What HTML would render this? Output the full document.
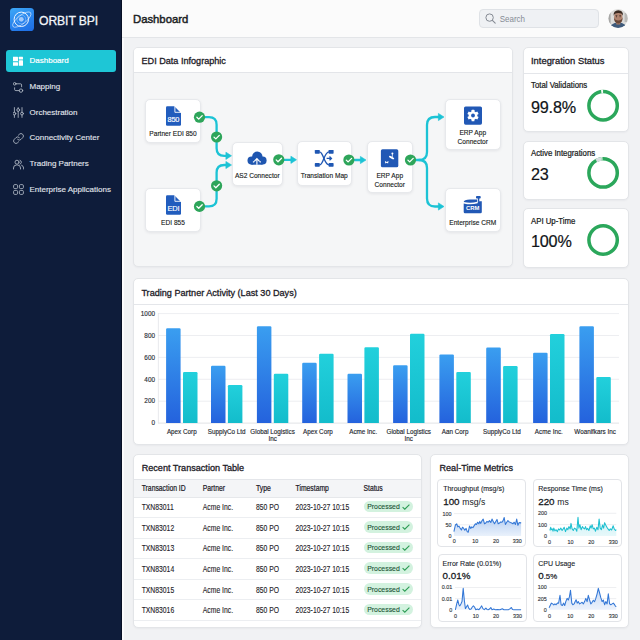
<!DOCTYPE html>
<html><head><meta charset="utf-8">
<style>
*{box-sizing:border-box;margin:0;padding:0}
html,body{width:640px;height:640px;overflow:hidden}
body{font-family:"Liberation Sans",sans-serif;background:#f1f2f4;position:relative;color:#1a1d23}
.a{position:absolute}
#sb{left:0;top:0;width:122px;height:640px;background:#0e1c3a;border-right:1px solid #070f24}
#strip{left:122px;top:0;width:2px;height:640px;background:#fbfbfc}
#logo{left:10.2px;top:7.8px;width:23.6px;height:23.4px;border-radius:3.6px;background:linear-gradient(155deg,#3eaaf8,#2a86ee 50%,#1d6ce4)}
#brand{left:39px;top:13.5px;font-size:12.2px;color:#f1f4f8;letter-spacing:-0.1px;white-space:nowrap}
.nav{left:6px;width:110px;height:22px;border-radius:3px}
.nav.on{background:#1ec6d6}
.nt{position:absolute;left:23.5px;font-size:8px;color:#e2e6ed;white-space:nowrap;top:6px;-webkit-text-stroke:0.12px #e2e6ed}
.nav.on .nt{color:#fff;-webkit-text-stroke:0.2px #fff}
.ni{position:absolute;left:7px;top:5.5px;width:11px;height:11px}
#top{left:122px;top:0;width:518px;height:37.5px;background:#fbfbfb;border-bottom:1px solid #e3e5e8}
#title{left:133px;top:12.7px;font-size:11.3px;color:#1b1e24;-webkit-text-stroke:0.45px #1b1e24}
#search{left:479px;top:9px;width:120px;height:19px;border:1px solid #dfe2e6;background:#eff1f4;border-radius:4px}
#stext{left:499.7px;top:14px;font-size:8px;color:#868c95;transform:scaleY(1.12);transform-origin:0 0}
.card{background:#fff;border:1px solid #e3e5e8;border-radius:5px;box-shadow:0 1px 2px rgba(20,30,50,0.04)}
.ch{font-size:9.1px;color:#1d2027;white-space:nowrap;-webkit-text-stroke:0.3px #1d2027}

.node{position:absolute;background:#fff;border:1px solid #e7e9ec;border-radius:5px;box-shadow:0 1px 3px rgba(20,30,50,0.08)}
.nl{position:absolute;font-size:6.6px;color:#181b20;white-space:nowrap;text-align:center;line-height:8px;transform:scaleY(1.15);-webkit-text-stroke:0.12px #181b20}

.sl{left:531px;font-size:7.8px;color:#1a1d22;white-space:nowrap;-webkit-text-stroke:0.22px #1a1d22;transform:scaleY(1.08);transform-origin:0 0}
.sv{left:531px;font-size:16.2px;color:#111418;white-space:nowrap;letter-spacing:-0.2px;-webkit-text-stroke:0.2px #111418}

.tt{position:absolute;font-size:6.8px;color:#1e2228;white-space:nowrap;transform:scaleY(1.2);transform-origin:0 0;-webkit-text-stroke:0.1px #1e2228}
.th{position:absolute;font-size:6.8px;color:#1d2027;white-space:nowrap;-webkit-text-stroke:0.18px #1d2027;transform:scaleY(1.2);transform-origin:0 0}
.pill{position:absolute;left:363.5px;width:49.5px;height:11.6px;border-radius:6px;background:#d3f2df}
.pill span{position:absolute;left:3.7px;top:1.6px;font-size:6.9px;color:#1a5234;white-space:nowrap;transform:scaleY(1.15);transform-origin:0 0;-webkit-text-stroke:0.1px #1a5234}
.pill svg{position:absolute;left:38.5px;top:3px}

.sub{width:89px;height:68px;border:1px solid #e2e4e8;border-radius:4px;background:#fff}
.ml{font-size:7px;color:#22262d;white-space:nowrap;-webkit-text-stroke:0.12px #22262d}
.mv{font-size:9.8px;color:#16191e;white-space:nowrap}
.mv b{font-weight:normal;-webkit-text-stroke:0.28px #16191e}
.mv span{font-size:8.6px;font-weight:normal}
.tx text{stroke:#2a2e35;stroke-width:0.14}
</style></head>
<body>
<div id="sb" class="a"></div><div id="strip" class="a"></div>
<div id="logo" class="a"><svg width="24" height="23" viewBox="0 0 24 23" style="position:absolute;left:0;top:0"><circle cx="11.3" cy="11.3" r="7.2" fill="none" stroke="#eef5ff" stroke-width="1"/><circle cx="11.3" cy="11.3" r="4.4" fill="none" stroke="#bcd9ff" stroke-width="0.7" opacity="0.55"/><circle cx="11.3" cy="11.3" r="2.4" fill="#b9d6fb" opacity="0.85"/><ellipse cx="11.8" cy="11.6" rx="11.2" ry="4.2" transform="rotate(-38 11.8 11.6)" fill="none" stroke="#e8f2ff" stroke-width="0.8" opacity="0.75"/></svg></div>
<div id="brand" class="a" style="-webkit-text-stroke:0.3px #f1f4f8">ORBIT BPI</div>

<div class="a nav on" style="top:50px"><svg class="ni" viewBox="0 0 11 11"><rect x="-0.2" y="0.8" width="5.2" height="4.5" rx="0.5" fill="#fff"/><rect x="-0.2" y="6.3" width="5.2" height="3.5" rx="0.5" fill="#fff"/><rect x="5.8" y="0.8" width="4.2" height="2.8" rx="0.5" fill="#fff"/><rect x="5.8" y="4.2" width="4.2" height="5.6" rx="0.5" fill="#fff"/></svg><div class="nt">Dashboard</div></div>
<div class="a nav" style="top:76px"><svg class="ni" viewBox="0 0 11 11" fill="none" stroke="#b4bcc8" stroke-width="0.85" stroke-linecap="round"><circle cx="1.7" cy="1.8" r="1.3"/><path d="M3 1.8H7.4Q8.6 1.8 8.6 3V4.8"/><path d="M1.6 5.8V7.4Q1.6 8.6 2.8 8.6H6.2"/><circle cx="8" cy="8.6" r="1.7"/></svg><div class="nt">Mapping</div></div>
<div class="a nav" style="top:101.5px"><svg class="ni" viewBox="0 0 11 11" fill="none" stroke="#b4bcc8" stroke-width="0.85" stroke-linecap="round"><path d="M1.4 0.6V5.2M1.4 8V10.4M5.2 0.6V1.6M5.2 4.4V10.4M9 0.6V5.2M9 8V10.4"/><circle cx="1.4" cy="6.6" r="1.4"/><circle cx="5.2" cy="3" r="1.4"/><circle cx="9" cy="6.6" r="1.4"/></svg><div class="nt">Orchestration</div></div>
<div class="a nav" style="top:127.3px"><svg class="ni" viewBox="0 0 11 11" fill="none" stroke="#b4bcc8" stroke-width="0.85" stroke-linecap="round"><path d="M4.6 6.4a2.4 2.4 0 0 0 3.4 0l1.7-1.7a2.4 2.4 0 0 0-3.4-3.4l-0.9 0.9"/><path d="M6.4 4.6a2.4 2.4 0 0 0-3.4 0l-1.7 1.7a2.4 2.4 0 0 0 3.4 3.4l0.9-0.9"/></svg><div class="nt">Connectivity Center</div></div>
<div class="a nav" style="top:153px"><svg class="ni" viewBox="0 0 11 11" fill="none" stroke="#b4bcc8" stroke-width="0.85" stroke-linecap="round"><circle cx="4" cy="3.2" r="2"/><path d="M0.5 10V9a3 3 0 0 1 3-3h1a3 3 0 0 1 3 3v1"/><path d="M7 1.3a2 2 0 0 1 0 3.8"/><path d="M8.6 6.2a3 3 0 0 1 2 2.8v1"/></svg><div class="nt">Trading Partners</div></div>
<div class="a nav" style="top:178.6px"><svg class="ni" viewBox="0 0 11 11" fill="none" stroke="#b4bcc8" stroke-width="0.85"><rect x="0.6" y="0.6" width="4" height="4" rx="1.2"/><rect x="6.4" y="0.6" width="4" height="4" rx="1.2"/><rect x="0.6" y="6.4" width="4" height="4" rx="1.2"/><rect x="6.4" y="6.4" width="4" height="4" rx="1.2"/></svg><div class="nt">Enterprise Applications</div></div>

<div id="top" class="a"></div>
<div id="title" class="a">Dashboard</div>
<div id="search" class="a"></div>
<div id="stext" class="a">Search</div>
<svg class="a" style="left:0;top:0" width="640" height="40" viewBox="0 0 640 40">
<defs><clipPath id="avc"><circle cx="618.1" cy="18.5" r="9.6"/></clipPath></defs>
<g clip-path="url(#avc)">
<rect x="608" y="8" width="21" height="21" fill="#dcdcda"/>
<rect x="608" y="12" width="2.6" height="12" fill="#9a9a98" opacity="0.8"/>
<rect x="624.6" y="13" width="3.4" height="9" fill="#b0b0ae" opacity="0.8"/>
<ellipse cx="618.3" cy="30.5" rx="9.5" ry="8" fill="#3e5a7b"/>
<rect x="616.3" y="21" width="4" height="3.5" fill="#a57a64"/>
<ellipse cx="618.3" cy="17.2" rx="4.2" ry="5.6" fill="#b08470"/><path d="M615.6 15.6H617.3M619.3 15.6H621" stroke="#3a2a21" stroke-width="0.7"/><circle cx="616.5" cy="16.7" r="0.5" fill="#2a1d18"/><circle cx="620.1" cy="16.7" r="0.5" fill="#2a1d18"/>
<path d="M613.9 17.5Q614 23.3 618.3 23.6Q622.6 23.3 622.7 17.5Q621.5 20.5 618.3 20.6Q615 20.5 613.9 17.5Z" fill="#6a4838"/>
<path d="M613.6 15.8Q613.2 10.6 618.3 10.3Q623.4 10.6 623 15.8Q622.2 12.8 618.3 12.9Q614.4 12.8 613.6 15.8Z" fill="#3a2a21"/>
</g>
</svg>
<svg class="a" style="left:484.8px;top:13.3px" width="11" height="11" viewBox="0 0 11 11"><circle cx="4.6" cy="4.6" r="3.7" fill="none" stroke="#858b94" stroke-width="1"/><path d="M7.4 7.4L10.2 10.2" stroke="#858b94" stroke-width="1.1" stroke-linecap="round"/></svg>

<!-- EDI card -->
<div class="a card" style="left:132.6px;top:47px;width:380.6px;height:220px;background:#f5f6f7;overflow:hidden">
  <div style="height:25px;background:#fff;border-bottom:1px solid #e3e5e9"></div>
</div>
<div class="a ch" style="left:141.5px;top:56.3px">EDI Data Infographic</div>


<!-- EDI nodes -->
<div class="node" style="left:145px;top:99px;width:56px;height:44px"></div>
<div class="node" style="left:145px;top:188px;width:56px;height:44px"></div>
<div class="node" style="left:232px;top:141.5px;width:50.5px;height:44px"></div>
<div class="node" style="left:297px;top:141px;width:54.5px;height:45px"></div>
<div class="node" style="left:367px;top:141px;width:45.5px;height:51.5px"></div>
<div class="node" style="left:444.5px;top:99px;width:56.5px;height:51px"></div>
<div class="node" style="left:444.5px;top:188px;width:56.5px;height:44px"></div>
<div class="nl" style="left:145px;width:56px;top:129.5px">Partner EDI 850</div>
<div class="nl" style="left:145px;width:56px;top:219px">EDI 855</div>
<div class="nl" style="left:232px;width:50.5px;top:172px">AS2 Connector</div>
<div class="nl" style="left:297px;width:54.5px;top:172px">Translation Map</div>
<div class="nl" style="left:367px;width:45.5px;top:172px">ERP App<br>Connector</div>
<div class="nl" style="left:444.5px;width:56.5px;top:129px">ERP App<br>Connector</div>
<div class="nl" style="left:444.5px;width:56.5px;top:219px">Enterprise CRM</div>
<svg class="a" style="left:0;top:0" width="640" height="640" viewBox="0 0 640 640">
<defs>
<g id="ck"><circle r="5.6" fill="#2ea55a"/><path d="M-2.6 0.1L-0.8 1.9L2.7 -1.6" fill="none" stroke="#fff" stroke-width="1.3" stroke-linecap="round" stroke-linejoin="round"/></g>
<path id="ah" d="M-5.6 -3.6L0 0L-5.6 3.6Z" fill="#1cc3d5" stroke="#1cc3d5" stroke-width="0.6" stroke-linejoin="round"/>
</defs>
<g fill="none" stroke="#1cc3d5" stroke-width="2.3" stroke-linecap="round">
<path d="M204 117.2H209Q216.6 117.2 216.6 124.8V148.2Q216.6 155.8 224.2 155.8H227"/>
<path d="M204 206.4H209Q216.6 206.4 216.6 198.8V172.6Q216.6 165 224.2 165H227"/>
<path d="M284 159.8H291"/>
<path d="M291 160H292"/>
<path d="M355 160H361"/>
<path d="M416 160H419Q427 160 427 152V125Q427 117 435 117H439"/>
<path d="M419 160Q427 160 427 168V198.5Q427 206.5 435 206.5H439"/>
</g>
<use href="#ah" x="231.5" y="155.8"/>
<use href="#ah" x="231.5" y="165"/>
<use href="#ah" x="296.5" y="159.8"/>
<use href="#ah" x="366" y="160"/>
<use href="#ah" x="444" y="117"/>
<use href="#ah" x="444" y="206.5"/>
<use href="#ck" x="199.5" y="117.2"/>
<use href="#ck" x="216.6" y="137"/>
<use href="#ck" x="216.6" y="185.8"/>
<use href="#ck" x="199.5" y="206.4"/>
<use href="#ck" x="278.8" y="159.8"/>
<use href="#ck" x="348.9" y="160"/>
<use href="#ck" x="410.5" y="160"/>
<!-- doc icons -->
<path d="M167.2 106.2H174.3L181 112.9V124.5Q181 125.7 179.8 125.7H167.2Q166 125.7 166 124.5V107.4Q166 106.2 167.2 106.2Z" fill="#215cbd"/><path d="M174.9 106.2V112.3H181.2" fill="none" stroke="#fff" stroke-width="0.9"/><text x="173.4" y="122" font-size="7.4" letter-spacing="-0.2" fill="#fff" text-anchor="middle" font-family="Liberation Sans" stroke="#fff" stroke-width="0.15">850</text>
<path d="M167.2 195.2H174.3L181 201.9V213.5Q181 214.7 179.8 214.7H167.2Q166 214.7 166 213.5V196.4Q166 195.2 167.2 195.2Z" fill="#215cbd"/><path d="M174.9 195.2V201.3H181.2" fill="none" stroke="#fff" stroke-width="0.9"/><text x="173.4" y="211" font-size="7.4" letter-spacing="-0.2" fill="#fff" text-anchor="middle" font-family="Liberation Sans" stroke="#fff" stroke-width="0.15">EDI</text>
<!-- cloud -->
<g fill="#1f56b0"><circle cx="251.6" cy="160.6" r="4.1"/><circle cx="257.3" cy="156.7" r="5.2"/><circle cx="262.6" cy="160.5" r="4"/><rect x="251.6" y="158" width="11" height="6.7"/></g>
<path d="M256.9 164.8V159.4M254.3 161.3L256.9 158.5L259.5 161.3M252.9 161.9H254.2M259.6 161.9H260.9" fill="none" stroke="#fff" stroke-width="1.15"/>
<!-- shuffle -->
<g fill="#1f57b3"><rect x="314.8" y="149.9" width="5" height="3.8" rx="0.7"/><rect x="314.8" y="163" width="5" height="3.8" rx="0.7"/><rect x="328.6" y="149.9" width="5" height="3.8" rx="0.7"/><rect x="328.6" y="163" width="5" height="3.8" rx="0.7"/></g>
<g fill="none" stroke="#1f57b3" stroke-width="1.35"><path d="M319.5 151.8C323.5 151.8 324 164.9 329 164.9"/><path d="M319.5 164.9C323.5 164.9 324 151.8 329 151.8"/><path d="M326.6 158.4H331.2M329.5 156.6L331.4 158.4L329.5 160.2"/></g>
<!-- erp mid -->
<rect x="380.9" y="149.3" width="17.4" height="18" rx="1.6" fill="#2158b5"/>
<circle cx="392.4" cy="153.4" r="1" fill="#fff"/><path d="M392.4 154V157" stroke="#fff" stroke-width="0.7"/><ellipse cx="391.6" cy="157.6" rx="3" ry="1" transform="rotate(28 391.6 157.6)" fill="#fff"/><path d="M384.9 161.1L386.7 162.1L388.5 161.1L388.1 163.5L386.7 162.7L385.3 163.5Z" fill="#fff"/>
<!-- gear -->
<rect x="464" y="106.4" width="18" height="18.3" rx="1.6" fill="#2158b5"/>
<g transform="translate(473 115.5)" fill="#fff"><circle r="4.3"/><rect id="tth" x="-1.45" y="-5.7" width="2.9" height="2.6" rx="0.5"/><use href="#tth" transform="rotate(60)"/><use href="#tth" transform="rotate(120)"/><use href="#tth" transform="rotate(180)"/><use href="#tth" transform="rotate(240)"/><use href="#tth" transform="rotate(300)"/><circle r="1.9" fill="#2158b5"/></g>
<!-- crm -->
<path d="M463.7 203.5Q471 205.3 477.6 203.3L478 201.3H481.8V211.9Q481.8 213.2 480.5 213.2H465Q463.7 213.2 463.7 211.9Z" fill="#2158b5"/>
<path d="M463.7 202.1Q463.9 199.7 470 199.6H477.2V201.8Q471 203.5 463.7 202.1Z" fill="#2158b5"/>
<rect x="476" y="196" width="4.7" height="2.5" rx="0.8" fill="#2158b5"/>
<rect x="477.9" y="198" width="1.4" height="3.6" fill="#2158b5"/>
<text x="472.8" y="210.4" font-size="5.9" fill="#fff" text-anchor="middle" font-family="Liberation Sans" font-weight="bold">CRM</text>
</svg>

<!-- Integration status -->
<div class="a card" style="left:522.5px;top:47px;width:106.3px;height:85.3px;overflow:hidden"><div style="height:25.5px;border-bottom:1px solid #e4e6ea"></div></div>
<div class="a card" style="left:522.5px;top:140.5px;width:106.3px;height:59.6px"></div>
<div class="a card" style="left:522.5px;top:207.5px;width:106.3px;height:60.3px"></div>
<div class="a ch" style="left:531px;top:55px;font-size:9.4px">Integration Status</div>
<div class="a sl" style="top:80px">Total Validations</div>
<div class="a sv" style="top:97.5px">99.8%</div>
<div class="a sl" style="top:148.2px">Active Integrations</div>
<div class="a sv" style="top:165.2px">23</div>
<div class="a sl" style="top:215.5px">API Up-Time</div>
<div class="a sv" style="top:232.3px">100%</div>
<svg class="a" style="left:0;top:0" width="640" height="640" viewBox="0 0 640 640" fill="none">
<circle cx="603.1" cy="105.8" r="14.2" stroke="#2ba75b" stroke-width="3.5"/>
<circle cx="603.1" cy="105.8" r="14.2" stroke="#f6fbf8" stroke-width="3.8" stroke-dasharray="1.9 100" transform="rotate(-97.5 603.1 105.8)"/>
<circle cx="603.1" cy="172.9" r="14.2" stroke="#2ba75b" stroke-width="3.5"/>
<circle cx="603.1" cy="172.9" r="14.2" stroke="#d6dddf" stroke-width="3.8" stroke-dasharray="5.5 100" transform="rotate(-119 603.1 172.9)"/>
<circle cx="603.1" cy="172.9" r="14.2" stroke="#f6fbf8" stroke-width="3.8" stroke-dasharray="1 100" transform="rotate(-96.5 603.1 172.9)"/>
<circle cx="603.1" cy="240" r="14.2" stroke="#2ba75b" stroke-width="3.5"/>
</svg>


<!-- chart card -->
<div class="a card" style="left:132.6px;top:278.4px;width:496.4px;height:166.6px;overflow:hidden"><div style="height:25.6px;border-bottom:1px solid #e4e6ea"></div></div>
<div class="a ch" style="left:141.4px;top:287.5px">Trading Partner Activity (Last 30 Days)</div>
<svg class="a tx" style="left:0;top:0" width="640" height="640" viewBox="0 0 640 640">
<defs><linearGradient id="gb" x1="0" y1="0" x2="0" y2="1"><stop offset="0" stop-color="#3a9ef0"/><stop offset="1" stop-color="#2462dd"/></linearGradient><linearGradient id="gc" x1="0" y1="0" x2="0" y2="1"><stop offset="0" stop-color="#22d0dc"/><stop offset="1" stop-color="#13bccb"/></linearGradient></defs>
<line x1="158" y1="423.1" x2="619" y2="423.1" stroke="#d9dce1" stroke-width="0.8"/>
<text x="155" y="425.3" font-size="6.4" text-anchor="end" fill="#2a2e35" font-family="Liberation Sans">0</text>
<line x1="158" y1="401.2" x2="619" y2="401.2" stroke="#e8eaed" stroke-width="0.8"/>
<text x="155" y="403.4" font-size="6.4" text-anchor="end" fill="#2a2e35" font-family="Liberation Sans">200</text>
<line x1="158" y1="379.3" x2="619" y2="379.3" stroke="#e8eaed" stroke-width="0.8"/>
<text x="155" y="381.5" font-size="6.4" text-anchor="end" fill="#2a2e35" font-family="Liberation Sans">400</text>
<line x1="158" y1="357.4" x2="619" y2="357.4" stroke="#e8eaed" stroke-width="0.8"/>
<text x="155" y="359.6" font-size="6.4" text-anchor="end" fill="#2a2e35" font-family="Liberation Sans">600</text>
<line x1="158" y1="335.5" x2="619" y2="335.5" stroke="#e8eaed" stroke-width="0.8"/>
<text x="155" y="337.7" font-size="6.4" text-anchor="end" fill="#2a2e35" font-family="Liberation Sans">800</text>
<line x1="158" y1="313.6" x2="619" y2="313.6" stroke="#e8eaed" stroke-width="0.8"/>
<text x="155" y="315.8" font-size="6.4" text-anchor="end" fill="#2a2e35" font-family="Liberation Sans">1000</text>
<line x1="158.4" y1="313" x2="158.4" y2="423.1" stroke="#e3e5e8" stroke-width="0.8"/>
<path d="M166.1 423.1V329.5Q166.1 328.3 167.3 328.3H179.4Q180.6 328.3 180.6 329.5V423.1Z" fill="url(#gb)"/>
<path d="M183.0 423.1V373.3Q183.0 372.1 184.2 372.1H196.3Q197.5 372.1 197.5 373.3V423.1Z" fill="url(#gc)"/>
<text x="181.8" y="433.6" font-size="6.3" text-anchor="middle" fill="#22262d" font-family="Liberation Sans">Apex Corp</text>
<path d="M211.0 423.1V367.0Q211.0 365.8 212.2 365.8H224.3Q225.5 365.8 225.5 367.0V423.1Z" fill="url(#gb)"/>
<path d="M227.9 423.1V386.2Q227.9 385.0 229.1 385.0H241.2Q242.4 385.0 242.4 386.2V423.1Z" fill="url(#gc)"/>
<text x="226.7" y="433.6" font-size="6.3" text-anchor="middle" fill="#22262d" font-family="Liberation Sans">SupplyCo Ltd</text>
<path d="M256.9 423.1V327.4Q256.9 326.2 258.1 326.2H270.2Q271.4 326.2 271.4 327.4V423.1Z" fill="url(#gb)"/>
<path d="M273.8 423.1V374.9Q273.8 373.7 275.0 373.7H287.1Q288.3 373.7 288.3 374.9V423.1Z" fill="url(#gc)"/>
<text x="272.6" y="433.6" font-size="6.3" text-anchor="middle" fill="#22262d" font-family="Liberation Sans">Global Logistics</text>
<text x="272.6" y="441.1" font-size="6.3" text-anchor="middle" fill="#22262d" font-family="Liberation Sans">Inc</text>
<path d="M302.2 423.1V364.0Q302.2 362.8 303.4 362.8H315.5Q316.7 362.8 316.7 364.0V423.1Z" fill="url(#gb)"/>
<path d="M319.1 423.1V354.9Q319.1 353.7 320.3 353.7H332.4Q333.6 353.7 333.6 354.9V423.1Z" fill="url(#gc)"/>
<text x="317.9" y="433.6" font-size="6.3" text-anchor="middle" fill="#22262d" font-family="Liberation Sans">Apex Corp</text>
<path d="M347.5 423.1V374.9Q347.5 373.7 348.7 373.7H360.8Q362.0 373.7 362.0 374.9V423.1Z" fill="url(#gb)"/>
<path d="M364.4 423.1V348.4Q364.4 347.2 365.6 347.2H377.7Q378.9 347.2 378.9 348.4V423.1Z" fill="url(#gc)"/>
<text x="363.2" y="433.6" font-size="6.3" text-anchor="middle" fill="#22262d" font-family="Liberation Sans">Acme Inc.</text>
<path d="M393.1 423.1V366.5Q393.1 365.3 394.3 365.3H406.4Q407.6 365.3 407.6 366.5V423.1Z" fill="url(#gb)"/>
<path d="M410.0 423.1V334.9Q410.0 333.7 411.2 333.7H423.3Q424.5 333.7 424.5 334.9V423.1Z" fill="url(#gc)"/>
<text x="408.8" y="433.6" font-size="6.3" text-anchor="middle" fill="#22262d" font-family="Liberation Sans">Global Logistics</text>
<text x="408.8" y="441.1" font-size="6.3" text-anchor="middle" fill="#22262d" font-family="Liberation Sans">Inc</text>
<path d="M439.4 423.1V355.6Q439.4 354.4 440.6 354.4H452.7Q453.9 354.4 453.9 355.6V423.1Z" fill="url(#gb)"/>
<path d="M456.3 423.1V373.1Q456.3 371.9 457.5 371.9H469.6Q470.8 371.9 470.8 373.1V423.1Z" fill="url(#gc)"/>
<text x="455.1" y="433.6" font-size="6.3" text-anchor="middle" fill="#22262d" font-family="Liberation Sans">Aan Corp</text>
<path d="M486.2 423.1V348.7Q486.2 347.5 487.4 347.5H499.6Q500.8 347.5 500.8 348.7V423.1Z" fill="url(#gb)"/>
<path d="M503.1 423.1V367.2Q503.1 366.0 504.3 366.0H516.4Q517.6 366.0 517.6 367.2V423.1Z" fill="url(#gc)"/>
<text x="501.9" y="433.6" font-size="6.3" text-anchor="middle" fill="#22262d" font-family="Liberation Sans">SupplyCo Ltd</text>
<path d="M533.1 423.1V354.0Q533.1 352.8 534.3 352.8H546.4Q547.6 352.8 547.6 354.0V423.1Z" fill="url(#gb)"/>
<path d="M550.0 423.1V335.2Q550.0 334.0 551.2 334.0H563.3Q564.5 334.0 564.5 335.2V423.1Z" fill="url(#gc)"/>
<text x="548.8" y="433.6" font-size="6.3" text-anchor="middle" fill="#22262d" font-family="Liberation Sans">Acme Inc.</text>
<path d="M579.4 423.1V327.4Q579.4 326.2 580.6 326.2H592.7Q593.9 326.2 593.9 327.4V423.1Z" fill="url(#gb)"/>
<path d="M596.3 423.1V378.1Q596.3 376.9 597.5 376.9H609.6Q610.8 376.9 610.8 378.1V423.1Z" fill="url(#gc)"/>
<text x="595.1" y="433.6" font-size="6.3" text-anchor="middle" fill="#22262d" font-family="Liberation Sans">Woanifkars Inc</text>
</svg>

<!-- table card -->
<div class="a card" style="left:132.8px;top:454px;width:289.2px;height:174.3px;overflow:hidden"><div style="height:25px;border-bottom:1px solid #e4e6ea"></div><div style="height:17.5px;background:#f4f5f7;border-bottom:1px solid #e6e8eb"></div>
<div style="height:20.6px;border-bottom:1px solid #eceef1"></div>
<div style="height:20.6px;border-bottom:1px solid #eceef1"></div>
<div style="height:20.6px;border-bottom:1px solid #eceef1"></div>
<div style="height:20.6px;border-bottom:1px solid #eceef1"></div>
<div style="height:20.6px;border-bottom:1px solid #eceef1"></div>
<div style="height:20.6px;border-bottom:1px solid #eceef1"></div>
</div>
<div class="a ch" style="left:141.7px;top:462.6px">Recent Transaction Table</div>
<div class="th" style="left:141.7px;top:484.4px">Transaction ID</div>
<div class="th" style="left:202.8px;top:484.4px">Partner</div>
<div class="th" style="left:256px;top:484.4px">Type</div>
<div class="th" style="left:295.5px;top:484.4px">Timestamp</div>
<div class="th" style="left:363.5px;top:484.4px">Status</div>
<div class="tt" style="left:141.7px;top:503.2px">TXN83011</div>
<div class="tt" style="left:202.8px;top:503.2px">Acme Inc.</div>
<div class="tt" style="left:256px;top:503.2px">850 PO</div>
<div class="tt" style="left:295.5px;top:503.2px">2023-10-27 10:15</div>
<div class="pill" style="top:500.6px"><span>Processed</span><svg width="8" height="6" viewBox="0 0 8 6"><path d="M0.6 3.1L2.8 5.2L7.4 0.7" fill="none" stroke="#2e9c55" stroke-width="1.1"/></svg></div>
<div class="tt" style="left:141.7px;top:523.8px">TXN83012</div>
<div class="tt" style="left:202.8px;top:523.8px">Acme Inc.</div>
<div class="tt" style="left:256px;top:523.8px">850 PO</div>
<div class="tt" style="left:295.5px;top:523.8px">2023-10-27 10:15</div>
<div class="pill" style="top:521.2px"><span>Processed</span><svg width="8" height="6" viewBox="0 0 8 6"><path d="M0.6 3.1L2.8 5.2L7.4 0.7" fill="none" stroke="#2e9c55" stroke-width="1.1"/></svg></div>
<div class="tt" style="left:141.7px;top:544.4px">TXN83013</div>
<div class="tt" style="left:202.8px;top:544.4px">Acme Inc.</div>
<div class="tt" style="left:256px;top:544.4px">850 PO</div>
<div class="tt" style="left:295.5px;top:544.4px">2023-10-27 10:15</div>
<div class="pill" style="top:541.8px"><span>Processed</span><svg width="8" height="6" viewBox="0 0 8 6"><path d="M0.6 3.1L2.8 5.2L7.4 0.7" fill="none" stroke="#2e9c55" stroke-width="1.1"/></svg></div>
<div class="tt" style="left:141.7px;top:565.0px">TXN83014</div>
<div class="tt" style="left:202.8px;top:565.0px">Acme Inc.</div>
<div class="tt" style="left:256px;top:565.0px">850 PO</div>
<div class="tt" style="left:295.5px;top:565.0px">2023-10-27 10:15</div>
<div class="pill" style="top:562.4px"><span>Processed</span><svg width="8" height="6" viewBox="0 0 8 6"><path d="M0.6 3.1L2.8 5.2L7.4 0.7" fill="none" stroke="#2e9c55" stroke-width="1.1"/></svg></div>
<div class="tt" style="left:141.7px;top:585.6px">TXN83015</div>
<div class="tt" style="left:202.8px;top:585.6px">Acme Inc.</div>
<div class="tt" style="left:256px;top:585.6px">850 PO</div>
<div class="tt" style="left:295.5px;top:585.6px">2023-10-27 10:15</div>
<div class="pill" style="top:583.0px"><span>Processed</span><svg width="8" height="6" viewBox="0 0 8 6"><path d="M0.6 3.1L2.8 5.2L7.4 0.7" fill="none" stroke="#2e9c55" stroke-width="1.1"/></svg></div>
<div class="tt" style="left:141.7px;top:606.2px">TXN83016</div>
<div class="tt" style="left:202.8px;top:606.2px">Acme Inc.</div>
<div class="tt" style="left:256px;top:606.2px">850 PO</div>
<div class="tt" style="left:295.5px;top:606.2px">2023-10-27 10:15</div>
<div class="pill" style="top:603.6px"><span>Processed</span><svg width="8" height="6" viewBox="0 0 8 6"><path d="M0.6 3.1L2.8 5.2L7.4 0.7" fill="none" stroke="#2e9c55" stroke-width="1.1"/></svg></div>

<!-- metrics card -->
<div class="a card" style="left:430.3px;top:453.8px;width:198.3px;height:174.7px"></div>
<div class="a ch" style="left:439.5px;top:463.4px">Real-Time Metrics</div>
<div class="a sub" style="left:437.2px;top:479.2px"></div>
<div class="a sub" style="left:533px;top:479.2px"></div>
<div class="a sub" style="left:437.5px;top:554.4px"></div>
<div class="a sub" style="left:533.3px;top:554.4px"></div>
<div class="a ml" style="left:443.2px;top:484.8px">Throughput (msg/s)</div>
<div class="a ml" style="left:538.2px;top:485.2px">Response Time (ms)</div>
<div class="a ml" style="left:442.6px;top:559.6px">Error Rate (0.01%)</div>
<div class="a ml" style="left:538.2px;top:559.6px">CPU Usage</div>
<div class="a mv" style="left:443.2px;top:495.5px"><b>100</b> <span>msg/s</span></div>
<div class="a mv" style="left:538.2px;top:495.5px"><b>220</b> <span>ms</span></div>
<div class="a mv" style="left:442.6px;top:570.2px"><b>0.01%</b></div>
<div class="a mv" style="left:538.2px;top:570.2px"><b>0</b><span style="font-size:7.8px;-webkit-text-stroke:0.2px #16191e">.5%</span></div>
<svg class="a tx" style="left:0;top:0" width="640" height="640" viewBox="0 0 640 640" font-family="Liberation Sans">
<defs><linearGradient id="fb" x1="0" y1="0" x2="0" y2="1"><stop offset="0" stop-color="#a9c6f0"/><stop offset="1" stop-color="#e6effb"/></linearGradient><linearGradient id="fc" x1="0" y1="0" x2="0" y2="1"><stop offset="0" stop-color="#bfeef3"/><stop offset="1" stop-color="#e3f7f9"/></linearGradient><linearGradient id="fb2" x1="0" y1="0" x2="0" y2="1"><stop offset="0" stop-color="#bcd3f4"/><stop offset="1" stop-color="#e9f0fb"/></linearGradient></defs>
<line x1="453.9" y1="513.6" x2="521" y2="513.6" stroke="#e6e8eb" stroke-width="0.7"/>
<line x1="453.9" y1="524.8" x2="521" y2="524.8" stroke="#e6e8eb" stroke-width="0.7"/>
<text x="451.5" y="515.5" font-size="5.4" text-anchor="end" fill="#3a3f47">100</text>
<text x="451.5" y="526.7" font-size="5.4" text-anchor="end" fill="#3a3f47">50</text>
<text x="451.5" y="537.9" font-size="5.4" text-anchor="end" fill="#3a3f47">0</text>
<text x="454.3" y="543.2" font-size="5.4" text-anchor="middle" fill="#3a3f47">0</text>
<text x="475.3" y="543.2" font-size="5.4" text-anchor="middle" fill="#3a3f47">10</text>
<text x="496" y="543.2" font-size="5.4" text-anchor="middle" fill="#3a3f47">20</text>
<text x="517.2" y="543.2" font-size="5.4" text-anchor="middle" fill="#3a3f47">330</text>
<path d="M453.9 536 L453.9 531.6 L455.4 525.0 L456.7 523.8 L457.8 526.9 L458.9 526.1 L460.1 528.1 L461.4 530.0 L462.5 527.2 L463.7 528.4 L464.8 530.3 L466.1 528.4 L467.2 531.6 L468.2 532.3 L469.5 526.1 L470.8 528.4 L471.8 526.9 L472.9 527.7 L474.2 525.6 L475.4 523.8 L476.5 524.5 L477.6 522.2 L478.9 523.8 L479.8 521.4 L480.8 523.4 L482.0 520.6 L483.2 519.1 L484.5 523.8 L485.8 523.0 L487.0 521.4 L488.2 522.2 L489.5 520.6 L490.8 522.5 L492.0 519.1 L493.2 521.4 L494.5 523.8 L495.8 521.4 L497.0 519.4 L498.2 523.8 L499.5 523.0 L500.8 521.9 L502.0 522.2 L503.1 520.6 L504.2 517.5 L505.4 524.5 L506.7 522.2 L507.9 520.6 L509.2 521.9 L510.4 522.5 L511.7 523.0 L512.9 523.8 L514.2 522.2 L515.4 524.5 L516.7 519.1 L517.9 525.3 L519.2 522.5 L520.4 523.0 L521.1 522.5 L521.1 536Z" fill="url(#fb)" opacity="0.85"/>
<polyline points="453.9,531.6 455.4,525.0 456.7,523.8 457.8,526.9 458.9,526.1 460.1,528.1 461.4,530.0 462.5,527.2 463.7,528.4 464.8,530.3 466.1,528.4 467.2,531.6 468.2,532.3 469.5,526.1 470.8,528.4 471.8,526.9 472.9,527.7 474.2,525.6 475.4,523.8 476.5,524.5 477.6,522.2 478.9,523.8 479.8,521.4 480.8,523.4 482.0,520.6 483.2,519.1 484.5,523.8 485.8,523.0 487.0,521.4 488.2,522.2 489.5,520.6 490.8,522.5 492.0,519.1 493.2,521.4 494.5,523.8 495.8,521.4 497.0,519.4 498.2,523.8 499.5,523.0 500.8,521.9 502.0,522.2 503.1,520.6 504.2,517.5 505.4,524.5 506.7,522.2 507.9,520.6 509.2,521.9 510.4,522.5 511.7,523.0 512.9,523.8 514.2,522.2 515.4,524.5 516.7,519.1 517.9,525.3 519.2,522.5 520.4,523.0 521.1,522.5" fill="none" stroke="#3377d6" stroke-width="1.05" stroke-linejoin="round"/>
<line x1="549" y1="513.3" x2="616.3" y2="513.3" stroke="#e6e8eb" stroke-width="0.7"/>
<line x1="549" y1="524.6" x2="616.3" y2="524.6" stroke="#e6e8eb" stroke-width="0.7"/>
<text x="547" y="515.2" font-size="5.4" text-anchor="end" fill="#3a3f47">200</text>
<text x="547" y="526.5" font-size="5.4" text-anchor="end" fill="#3a3f47">100</text>
<text x="547" y="537.9" font-size="5.4" text-anchor="end" fill="#3a3f47">0</text>
<text x="549.6" y="543.6" font-size="5.4" text-anchor="middle" fill="#3a3f47">0</text>
<text x="570.5" y="543.6" font-size="5.4" text-anchor="middle" fill="#3a3f47">10</text>
<text x="591.3" y="543.6" font-size="5.4" text-anchor="middle" fill="#3a3f47">20</text>
<text x="613.2" y="543.6" font-size="5.4" text-anchor="middle" fill="#3a3f47">330</text>
<path d="M549.9 536 L549.9 530.5 L550.7 527.3 L551.4 529.7 L552.2 528.9 L553.0 531.2 L553.8 528.1 L554.9 530.9 L556.1 529.7 L557.4 531.6 L558.5 528.9 L559.6 530.0 L560.8 528.1 L562.1 530.5 L563.2 528.9 L564.2 527.3 L565.5 531.6 L566.8 528.1 L567.8 529.7 L568.9 526.6 L570.2 528.9 L571.0 523.4 L572.1 528.9 L573.3 530.5 L574.4 528.1 L575.7 528.9 L576.8 531.2 L578.0 517.2 L578.9 528.1 L579.9 524.7 L581.1 529.7 L582.4 526.6 L583.5 528.1 L584.6 528.9 L585.5 526.6 L586.6 529.7 L587.7 528.4 L588.9 530.5 L590.2 525.8 L591.1 528.1 L592.1 524.7 L593.3 528.9 L594.4 528.1 L595.5 531.2 L596.8 527.3 L598.0 529.7 L599.1 519.1 L600.2 528.1 L601.4 529.7 L602.5 525.0 L603.6 528.1 L604.6 522.7 L605.7 525.0 L606.9 527.3 L608.0 528.9 L609.2 530.5 L610.3 528.9 L611.6 530.0 L613.2 525.8 L614.2 528.9 L615.5 530.5 L616.3 529.7 L616.3 536Z" fill="url(#fc)" opacity="0.85"/>
<polyline points="549.9,530.5 550.7,527.3 551.4,529.7 552.2,528.9 553.0,531.2 553.8,528.1 554.9,530.9 556.1,529.7 557.4,531.6 558.5,528.9 559.6,530.0 560.8,528.1 562.1,530.5 563.2,528.9 564.2,527.3 565.5,531.6 566.8,528.1 567.8,529.7 568.9,526.6 570.2,528.9 571.0,523.4 572.1,528.9 573.3,530.5 574.4,528.1 575.7,528.9 576.8,531.2 578.0,517.2 578.9,528.1 579.9,524.7 581.1,529.7 582.4,526.6 583.5,528.1 584.6,528.9 585.5,526.6 586.6,529.7 587.7,528.4 588.9,530.5 590.2,525.8 591.1,528.1 592.1,524.7 593.3,528.9 594.4,528.1 595.5,531.2 596.8,527.3 598.0,529.7 599.1,519.1 600.2,528.1 601.4,529.7 602.5,525.0 603.6,528.1 604.6,522.7 605.7,525.0 606.9,527.3 608.0,528.9 609.2,530.5 610.3,528.9 611.6,530.0 613.2,525.8 614.2,528.9 615.5,530.5 616.3,529.7" fill="none" stroke="#1dbfd0" stroke-width="1.05" stroke-linejoin="round"/>
<line x1="455.1" y1="587.5" x2="521" y2="587.5" stroke="#e6e8eb" stroke-width="0.7"/>
<line x1="455.1" y1="598.6" x2="521" y2="598.6" stroke="#e6e8eb" stroke-width="0.7"/>
<text x="452.3" y="589.4" font-size="5.4" text-anchor="end" fill="#3a3f47">0.01</text>
<text x="452.3" y="600.5" font-size="5.4" text-anchor="end" fill="#3a3f47">0.01</text>
<text x="452.3" y="611.7" font-size="5.4" text-anchor="end" fill="#3a3f47">0</text>
<text x="455.4" y="617.8" font-size="5.4" text-anchor="middle" fill="#3a3f47">0</text>
<text x="475.75" y="617.8" font-size="5.4" text-anchor="middle" fill="#3a3f47">10</text>
<text x="496" y="617.8" font-size="5.4" text-anchor="middle" fill="#3a3f47">20</text>
<text x="517.6" y="617.8" font-size="5.4" text-anchor="middle" fill="#3a3f47">330</text>
<path d="M455.4 609.8 L455.4 609.8 L456.7 603.9 L457.8 600.0 L458.9 604.7 L459.8 605.9 L460.9 603.9 L462.0 601.6 L463.2 588.3 L464.3 600.0 L465.4 608.6 L466.4 607.0 L467.6 605.0 L468.7 608.1 L469.8 609.4 L471.1 609.1 L472.3 607.0 L473.4 605.9 L474.5 607.0 L475.8 609.7 L477.3 609.1 L478.9 609.7 L480.4 607.8 L481.7 605.9 L482.9 608.6 L484.3 609.7 L485.9 608.1 L487.0 609.4 L488.2 609.7 L489.5 609.1 L490.8 607.5 L492.0 609.7 L493.7 609.1 L495.3 609.8 L497.6 609.4 L500.0 609.8 L502.3 608.8 L503.9 609.7 L506.2 609.8 L508.6 609.7 L510.1 608.6 L511.4 607.5 L512.5 609.4 L514.0 609.8 L517.2 609.8 L521.1 609.8 L521.1 609.8Z" fill="url(#fb2)" opacity="0.85"/>
<polyline points="455.4,609.8 456.7,603.9 457.8,600.0 458.9,604.7 459.8,605.9 460.9,603.9 462.0,601.6 463.2,588.3 464.3,600.0 465.4,608.6 466.4,607.0 467.6,605.0 468.7,608.1 469.8,609.4 471.1,609.1 472.3,607.0 473.4,605.9 474.5,607.0 475.8,609.7 477.3,609.1 478.9,609.7 480.4,607.8 481.7,605.9 482.9,608.6 484.3,609.7 485.9,608.1 487.0,609.4 488.2,609.7 489.5,609.1 490.8,607.5 492.0,609.7 493.7,609.1 495.3,609.8 497.6,609.4 500.0,609.8 502.3,608.8 503.9,609.7 506.2,609.8 508.6,609.7 510.1,608.6 511.4,607.5 512.5,609.4 514.0,609.8 517.2,609.8 521.1,609.8" fill="none" stroke="#3377d6" stroke-width="1.05" stroke-linejoin="round"/>
<line x1="549.1" y1="587.5" x2="616.3" y2="587.5" stroke="#e6e8eb" stroke-width="0.7"/>
<line x1="549.1" y1="598.6" x2="616.3" y2="598.6" stroke="#e6e8eb" stroke-width="0.7"/>
<text x="546.75" y="589.4" font-size="5.4" text-anchor="end" fill="#3a3f47">100</text>
<text x="546.75" y="600.5" font-size="5.4" text-anchor="end" fill="#3a3f47">205</text>
<text x="546.75" y="611.7" font-size="5.4" text-anchor="end" fill="#3a3f47">0</text>
<text x="549.6" y="617.8" font-size="5.4" text-anchor="middle" fill="#3a3f47">0</text>
<text x="570.2" y="617.8" font-size="5.4" text-anchor="middle" fill="#3a3f47">10</text>
<text x="591.3" y="617.8" font-size="5.4" text-anchor="middle" fill="#3a3f47">20</text>
<text x="613.2" y="617.8" font-size="5.4" text-anchor="middle" fill="#3a3f47">330</text>
<path d="M549.1 609.8 L549.1 607.8 L550.2 605.5 L551.4 603.1 L552.7 603.9 L553.8 605.0 L554.9 603.9 L556.1 604.7 L557.4 603.1 L558.6 603.1 L560.0 595.3 L561.1 604.7 L562.4 605.5 L563.6 603.1 L564.7 605.5 L565.8 601.6 L567.1 598.4 L568.3 600.0 L569.4 596.9 L570.5 590.3 L571.8 603.1 L572.8 604.7 L574.1 603.9 L575.2 601.6 L576.1 599.7 L577.2 603.1 L578.3 601.6 L579.6 603.9 L580.8 603.1 L582.1 602.3 L583.3 603.9 L584.6 601.6 L585.8 598.4 L587.1 601.6 L588.3 595.3 L589.6 600.0 L590.8 603.9 L592.1 602.3 L593.3 600.3 L594.6 601.6 L595.8 598.4 L597.1 593.8 L598.3 588.3 L599.6 593.0 L600.8 597.7 L602.1 601.6 L603.3 600.0 L604.6 604.7 L605.8 601.6 L607.1 603.9 L608.3 593.8 L609.6 603.9 L610.8 604.7 L612.1 603.9 L613.3 603.1 L614.6 604.7 L615.5 606.2 L616.3 606.6 L616.3 609.8Z" fill="url(#fb2)" opacity="0.85"/>
<polyline points="549.1,607.8 550.2,605.5 551.4,603.1 552.7,603.9 553.8,605.0 554.9,603.9 556.1,604.7 557.4,603.1 558.6,603.1 560.0,595.3 561.1,604.7 562.4,605.5 563.6,603.1 564.7,605.5 565.8,601.6 567.1,598.4 568.3,600.0 569.4,596.9 570.5,590.3 571.8,603.1 572.8,604.7 574.1,603.9 575.2,601.6 576.1,599.7 577.2,603.1 578.3,601.6 579.6,603.9 580.8,603.1 582.1,602.3 583.3,603.9 584.6,601.6 585.8,598.4 587.1,601.6 588.3,595.3 589.6,600.0 590.8,603.9 592.1,602.3 593.3,600.3 594.6,601.6 595.8,598.4 597.1,593.8 598.3,588.3 599.6,593.0 600.8,597.7 602.1,601.6 603.3,600.0 604.6,604.7 605.8,601.6 607.1,603.9 608.3,593.8 609.6,603.9 610.8,604.7 612.1,603.9 613.3,603.1 614.6,604.7 615.5,606.2 616.3,606.6" fill="none" stroke="#3377d6" stroke-width="1.05" stroke-linejoin="round"/>
</svg>
</body></html>
